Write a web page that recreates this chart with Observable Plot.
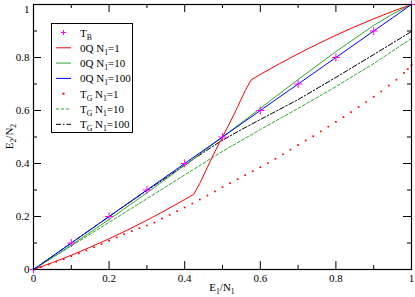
<!DOCTYPE html>
<html><head><meta charset="utf-8">
<script src="https://cdn.jsdelivr.net/npm/d3@7"></script>
<script src="https://cdn.jsdelivr.net/npm/@observablehq/plot@0.6"></script>
<style>body{margin:0;background:#fff}svg{display:block}</style>
</head><body><div id="chart"></div>
<script>
// ---- tick values
const majorTicks = [0, 0.2, 0.4, 0.6, 0.8, 1];
const minorTicks = [0.1, 0.3, 0.5, 0.7, 0.9];

// ---- series data (x = E1/N1, y = E2/N2)
const tbX = [0, 0.1, 0.2, 0.3, 0.4, 0.5, 0.6, 0.7, 0.8, 0.9, 1];
const tbY = [0, 0.1, 0.2, 0.3, 0.4, 0.5, 0.6, 0.7, 0.8, 0.9, 1];

const q1X = [0,0.05,0.1,0.15,0.2,0.25,0.3,0.35,0.4,0.424,0.44,0.46,0.48,0.5,0.52,0.54,0.56,0.576,0.6,0.65,0.7,0.75,0.8,0.85,0.9,0.95,1];
const q1Y = [0,0.026,0.054,0.084,0.116,0.150,0.186,0.224,0.264,0.284,0.325,0.386,0.445,0.5,0.555,0.614,0.675,0.716,0.736,0.776,0.814,0.850,0.884,0.916,0.946,0.974,1];

const q10X = [0,0.05,0.1,0.2,0.3,0.4,0.5,0.6,0.7,0.8,0.9,0.95,1];
const q10Y = [0,0.045,0.092,0.189,0.289,0.393,0.5,0.608,0.717,0.822,0.921,0.964,1];

const q100X = [0, 0.1, 0.2, 0.3, 0.4, 0.5, 0.6, 0.7, 0.8, 0.9, 1];
const q100Y = [0, 0.1, 0.2, 0.3, 0.4, 0.5, 0.6, 0.7, 0.8, 0.9, 1];

const g1X = [0,0.02,0.04,0.06,0.08,0.10,0.12,0.14,0.16,0.18,0.20,0.22,0.24,0.26,0.28,0.30,0.32,0.34,0.36,0.38,0.40,0.42,0.44,0.46,0.48,0.50,0.52,0.54,0.56,0.58,0.60,0.62,0.64,0.66,0.68,0.70,0.72,0.74,0.76,0.78,0.80,0.82,0.84,0.86,0.88,0.90,0.92,0.94,0.96,0.98,0.99,1.00];
const g1Y = [0,0.009,0.019,0.029,0.039,0.050,0.061,0.072,0.084,0.096,0.108,0.121,0.133,0.145,0.156,0.166,0.177,0.192,0.206,0.220,0.234,0.249,0.264,0.279,0.295,0.311,0.326,0.341,0.356,0.371,0.386,0.402,0.418,0.435,0.452,0.469,0.487,0.503,0.521,0.539,0.557,0.575,0.594,0.613,0.632,0.652,0.672,0.694,0.716,0.742,0.756,0.772];

const g10X = [0, 0.1, 0.2, 0.3, 0.4, 0.5, 0.6, 0.7, 0.8, 0.9, 1];
const g10Y = [0,0.089,0.178,0.267,0.357,0.446,0.528,0.608,0.690,0.777,0.872];

const g100X = [0,0.1,0.2,0.3,0.4,0.45,0.5,0.55,0.6,0.7,0.8,0.9,1];
const g100Y = [0,0.1,0.2,0.298,0.394,0.442,0.488,0.528,0.566,0.641,0.725,0.811,0.898];

// ---- legend labels as [text, "sub"|""] parts
const legendLabels = [
  [["T",""],["B","sub"]],
  [["0Q N",""],["1","sub"],["=1",""]],
  [["0Q N",""],["1","sub"],["=10",""]],
  [["0Q N",""],["1","sub"],["=100",""]],
  [["T",""],["G","sub"],[" N",""],["1","sub"],["=1",""]],
  [["T",""],["G","sub"],[" N",""],["1","sub"],["=10",""]],
  [["T",""],["G","sub"],[" N",""],["1","sub"],["=100",""]]
];

// ---- styles
const RED = "#ff0000", GREEN = "#2fa82f", BLUE = "#0000ff", MAG = "#ff00ff", BLK = "#000000";
const styles = [
  {kind:"plus", color:MAG},
  {kind:"line", color:RED, dash:null},
  {kind:"line", color:GREEN, dash:null},
  {kind:"line", color:BLUE, dash:null},
  {kind:"dot", color:RED},
  {kind:"line", color:GREEN, dash:"3,2"},
  {kind:"line", color:BLK, dash:"5,2,1.5,2"}
];

const W = 415, H = 297, mL = 33, mR = 4, mT = 4, mB = 28;
const iW = W - mL - mR, iH = H - mT - mB;
const rows = (xs, ys) => xs.map((x, i) => ({x, y: ys[i]}));
const fmt = d => String(d);

const plot = Plot.plot({
  width: W, height: H,
  marginLeft: mL, marginRight: mR, marginTop: mT, marginBottom: mB,
  style: {fontFamily: "'Liberation Serif', 'Times New Roman', serif", fontSize: "11px", background: "#fff", color: "#000", overflow: "visible"},
  x: {domain: [0, 1]},
  y: {domain: [0, 1]},
  marks: [
    Plot.axisX(majorTicks, {tickSize: 0, tickPadding: 5, tickFormat: fmt, label: null}),
    Plot.axisY(majorTicks, {tickSize: 0, tickPadding: 4, tickFormat: fmt, label: null}),
    Plot.line(rows(g10X, g10Y), {x: "x", y: "y", stroke: GREEN, strokeWidth: 1, strokeDasharray: "3,2"}),
    Plot.line(rows(g100X, g100Y), {x: "x", y: "y", stroke: BLK, strokeWidth: 1, strokeDasharray: "5,2,1.5,2"}),
    Plot.line(rows(q1X, q1Y), {x: "x", y: "y", stroke: RED, strokeWidth: 1}),
    Plot.line(rows(q10X, q10Y), {x: "x", y: "y", stroke: GREEN, strokeWidth: 1}),
    Plot.line(rows(q100X, q100Y), {x: "x", y: "y", stroke: BLUE, strokeWidth: 1}),
    Plot.dot(rows(g1X, g1Y), {x: "x", y: "y", symbol: "square", r: 0.95, fill: RED, stroke: null}),
    Plot.dot(rows(tbX, tbY), {x: "x", y: "y", symbol: "plus", r: 2.7, stroke: MAG, strokeWidth: 1}),
    // inward ticks on all four sides
    Plot.ruleX(majorTicks, {x: d => d, insetTop: iH - 8, stroke: "#000"}),
    Plot.ruleX(minorTicks, {x: d => d, insetTop: iH - 4, stroke: "#000"}),
    Plot.ruleX(majorTicks, {x: d => d, insetBottom: iH - 8, stroke: "#000"}),
    Plot.ruleX(minorTicks, {x: d => d, insetBottom: iH - 4, stroke: "#000"}),
    Plot.ruleY(majorTicks, {y: d => d, insetRight: iW - 8, stroke: "#000"}),
    Plot.ruleY(minorTicks, {y: d => d, insetRight: iW - 4, stroke: "#000"}),
    Plot.ruleY(majorTicks, {y: d => d, insetLeft: iW - 8, stroke: "#000"}),
    Plot.ruleY(minorTicks, {y: d => d, insetLeft: iW - 4, stroke: "#000"}),
    Plot.frame({stroke: "#000", strokeWidth: 1.2})
  ]
});

const svg = d3.select(plot);
const FONT = "'Liberation Serif', 'Times New Roman', serif";

function addRich(g, parts, x, y, size, anchor) {
  const t = g.append("text").attr("x", x).attr("y", y).attr("font-family", FONT)
    .attr("font-size", size).attr("fill", "#000").attr("text-anchor", anchor || "start");
  let shifted = false;
  parts.forEach(([s, kind]) => {
    const sp = t.append("tspan").text(s);
    if (kind === "sub") { sp.attr("font-size", size * 0.7); if (!shifted) sp.attr("dy", 3); shifted = true; }
    else { if (shifted) sp.attr("dy", -3); shifted = false; }
  });
  return t;
}

// axis titles
addRich(svg, [["E",""],["1","sub"],["/N",""],["1","sub"]], mL + iW / 2, 291, 11, "middle");
const yt = svg.append("g").attr("transform", `translate(13,${mT + iH / 2}) rotate(-90)`);
addRich(yt, [["E",""],["2","sub"],["/N",""],["2","sub"]], 0, 0, 11, "middle");

// legend
const lg = svg.append("g");
lg.append("rect").attr("x", 51.5).attr("y", 23.5).attr("width", 81).attr("height", 109)
  .attr("fill", "#fff").attr("stroke", "#000").attr("stroke-width", 1);
const rowY0 = 32.5, rowDy = 15.3;
styles.forEach((s, i) => {
  const yy = rowY0 + i * rowDy;
  if (s.kind === "line") {
    const l = lg.append("line").attr("x1", 56).attr("x2", 71).attr("y1", yy).attr("y2", yy)
      .attr("stroke", s.color).attr("stroke-width", 1);
    if (s.dash) l.attr("stroke-dasharray", s.dash);
  } else if (s.kind === "plus") {
    lg.append("path").attr("d", `M61,${yy}h5M63.5,${yy - 2.5}v5`).attr("stroke", s.color).attr("stroke-width", 1);
  } else {
    lg.append("rect").attr("x", 62.5).attr("y", yy - 1).attr("width", 2).attr("height", 2).attr("fill", s.color);
  }
  addRich(lg, legendLabels[i], 80, yy + 4, 11, "start");
});

// nudge the top "1" tick label slightly down so it stays inside the picture
svg.selectAll("g[aria-label='y-axis tick label'] text").filter(function() { return this.textContent === "1"; })
  .attr("dy", "0.45em");

document.getElementById("chart").appendChild(plot);
</script>
</body></html>
